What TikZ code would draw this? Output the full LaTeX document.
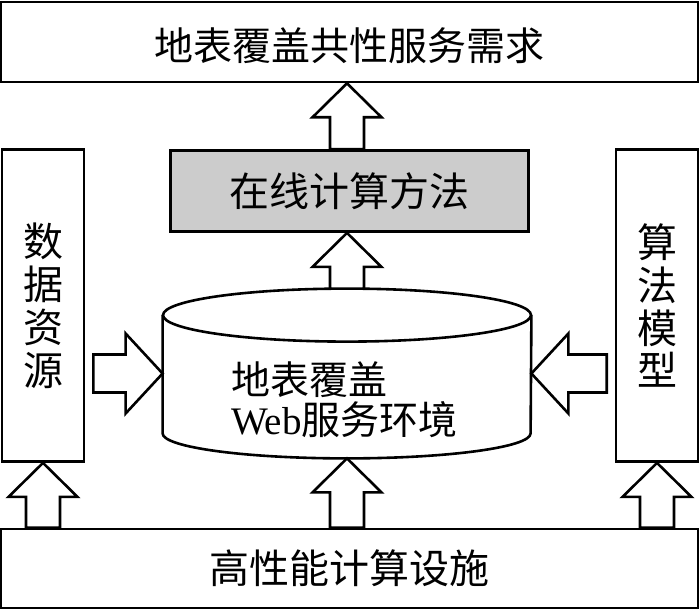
\documentclass[tikz,border=0pt]{standalone}
\usepackage{fontspec}
\setmainfont{Liberation Serif}
\newfontfamily\cjk{Noto Sans CJK SC}
\usepackage{tikz}
\usetikzlibrary{calc}
\usetikzlibrary{positioning}
\tikzstyle{box}  =
[
	draw,rectangle,line width=1.3pt,inner sep=0pt,
	font=\cjk\fontsize{20pt}{21.4pt}\selectfont
]
\tikzstyle{widebox} =
[
	box, minimum width=348.5pt, minimum height=40pt
]
\tikzstyle{graybox} =
[
	box, minimum width=179pt, minimum height=40.5pt, fill=gray!40
]
\tikzstyle{tallbox} =
[
	box, minimum width=41pt, minimum height=156pt, align=center
]
\tikzstyle{cylline} = [line width=1.3pt]
% hollow block arrow: half shaft, half head, head length (pt)
\tikzset{
	fatarrow/.style n args={3}{draw,fill=white,line width=1.3pt,
		to path={let \p1=($(\tikztotarget)-(\tikztostart)$),
			\n1={atan2(\y1,\x1)}, \n2={veclen(\x1,\y1)} in
			([shift={(\tikztostart)},rotate=\n1]0pt,-#1pt)
			-- ([shift={(\tikztostart)},rotate=\n1]\n2-#3pt,-#1pt)
			-- ([shift={(\tikztostart)},rotate=\n1]\n2-#3pt,-#2pt)
			-- (\tikztotarget)
			-- ([shift={(\tikztostart)},rotate=\n1]\n2-#3pt,#2pt)
			-- ([shift={(\tikztostart)},rotate=\n1]\n2-#3pt,#1pt)
			-- ([shift={(\tikztostart)},rotate=\n1]0pt,#1pt)
			-- cycle}}
}

\begin{document}
\begin{tikzpicture}

\useasboundingbox (0,0) rectangle (350pt,305.5pt);

\node[widebox, font=\cjk\fontsize{19.5pt}{21pt}\selectfont, text height=19pt, text depth=0pt] (need) at (174.75pt,284.5pt) {地表覆盖共性服务需求};
\node[graybox][below=33pt of need](online){在线计算方法};
\node[tallbox][below=32.5pt of need.south west, anchor=north west, xshift=0.5pt](data){数\\据\\资\\源};
\node[tallbox][below=32.5pt of need.south east, anchor=north east](model){算\\法\\模\\型};
\node[widebox, minimum height=39.5pt] (base) at (174.75pt,21.25pt) {高性能计算设施};

% database cylinder
\node[minimum width=184pt, minimum height=84.5pt, inner sep=0pt] (cyl) at (173.5pt,118.75pt) {};
\draw[cylline] ([yshift=-13.25pt]cyl.north west) -- ([yshift=12.5pt]cyl.south west)
	arc[start angle=180, end angle=360, x radius=92pt, y radius=12.5pt]
	-- ([yshift=-13.25pt]cyl.north east);
\draw[cylline] ([yshift=-13.25pt]cyl.north) ellipse [x radius=92pt, y radius=13.25pt];
\node[font=\fontsize{19.5pt}{20pt}\selectfont, align=left] (cyltext) at (172.25pt,105.5pt)
	{{\cjk 地表覆盖}\\Web{\cjk 服务环境}};

\coordinate (dataout) at ([xshift=4pt]data.east |- cyl.west);
\coordinate (modelout) at ([xshift=-4pt]model.west |- cyl.east);

\path
	(cyl.north) edge[fatarrow={8.5}{17.25}{17}] (cyl.north |- online.south)
	(cyl.north |- online.north) edge[fatarrow={8.5}{17.25}{17}] (cyl.north |- need.south)
	(cyl.south |- base.north) edge[fatarrow={8.5}{17.25}{17}] (cyl.south)
	(data.south |- base.north) edge[fatarrow={8.5}{17.25}{17}] (data.south)
	(model.south |- base.north) edge[fatarrow={8.5}{17.25}{17}] (model.south);

\path
	(dataout) edge[fatarrow={9.5}{20}{18.5}] (cyl.west)
	(modelout) edge[fatarrow={9.5}{20}{18.5}] (cyl.east);

\end{tikzpicture}
\end{document}
